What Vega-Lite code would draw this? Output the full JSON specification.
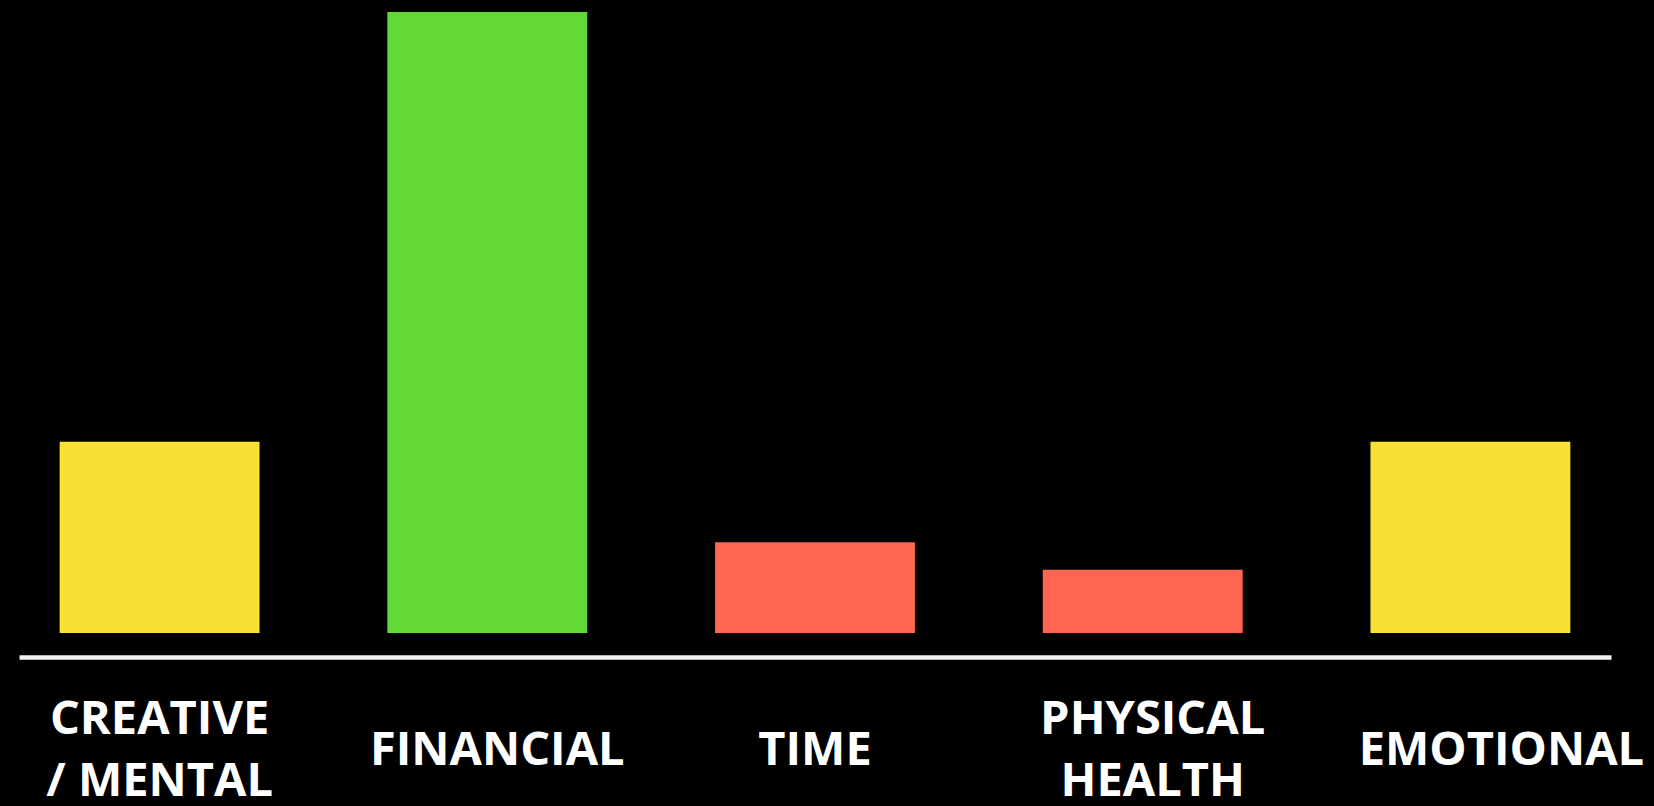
{
  "$schema": "https://vega.github.io/schema/vega-lite/v6.json",
  "width": 1592,
  "height": 621,
  "autosize": {"type": "none"},
  "padding": {"left": 19, "top": 12, "right": 43, "bottom": 173},
  "background": "#000000",
  "config": {"view": {"stroke": null}},
  "data": {
    "values": [
      {"category": "CREATIVE|/ MENTAL", "value": 30.8, "level": "medium"},
      {"category": "FINANCIAL", "value": 100, "level": "high"},
      {"category": "TIME", "value": 14.6, "level": "low"},
      {"category": "PHYSICAL|HEALTH", "value": 10.2, "level": "low"},
      {"category": "EMOTIONAL", "value": 30.8, "level": "medium"}
    ]
  },
  "mark": {"type": "bar"},
  "encoding": {
    "x": {
      "field": "category",
      "type": "nominal",
      "sort": null,
      "scale": {"paddingInner": 0.39, "paddingOuter": 0.124},
      "axis": {
        "title": null,
        "offset": 24,
        "domain": true,
        "domainColor": "#f2f2f2",
        "domainWidth": 4.5,
        "ticks": false,
        "grid": false,
        "labelAngle": 0,
        "labelColor": "#ffffff",
        "labelFont": "Open Sans",
        "labelFontWeight": "bold",
        "labelFontSize": 47,
        "labelLineHeight": 62,
        "labelBaseline": "middle",
        "labelPadding": {"expr": "indexof(datum.label, '|') >= 0 ? 62 : 93"},
        "labelLimit": 0,
        "labelOverlap": false,
        "labelBound": false,
        "labelFlush": false,
        "labelExpr": "split(datum.label, '|')",
        "labelOffset": {"expr": "datum.label == 'EMOTIONAL' ? 31 : (datum.label == 'FINANCIAL' || datum.label == 'PHYSICAL|HEALTH' ? 10 : 0)"}
      }
    },
    "y": {
      "field": "value",
      "type": "quantitative",
      "scale": {"domain": [0, 100], "nice": false},
      "axis": null
    },
    "color": {
      "field": "level",
      "type": "nominal",
      "scale": {"domain": ["medium", "high", "low"], "range": ["#F8E133", "#62D937", "#FF6550"]},
      "legend": null
    }
  }
}
